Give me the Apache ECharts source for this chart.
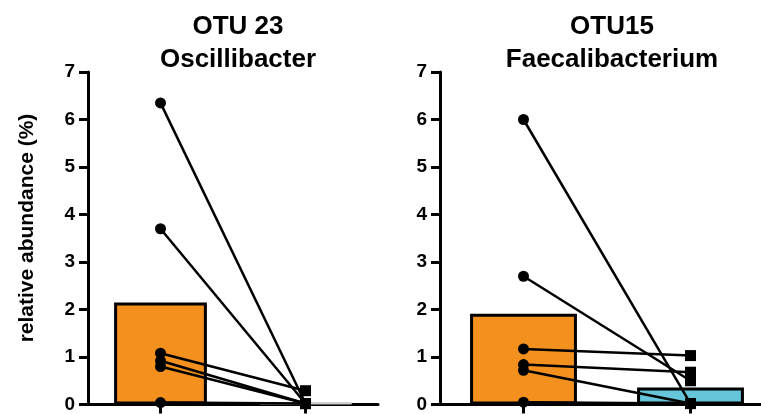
<!DOCTYPE html>
<html>
<head>
<meta charset="utf-8">
<script src="https://cdn.jsdelivr.net/npm/echarts@6/dist/echarts.min.js"></script>
<style>
html,body{margin:0;padding:0;background:#fff;overflow:hidden;width:761px;height:414px;}
#chart{width:800px;height:414px;}
</style>
</head>
<body>
<div id="chart"></div>
<script>
// ---- data ----
var categories = ['before', 'after'];
var yTicks = [0, 1, 2, 3, 4, 5, 6, 7];
var panelTitles = ['OTU 23\nOscillibacter', 'OTU15\nFaecalibacterium'];
var yAxisLabel = 'relative abundance (%)';

var otu23Before = [6.35, 3.70, 1.08, 0.92, 0.80, 0.04];
var otu23After  = [0.02, 0.02, 0.29, 0.02, 0.02, 0.02];
var otu23Means  = [2.15, 0.05];

var otu15Before = [6.00, 2.70, 1.17, 0.84, 0.72, 0.05];
var otu15After  = [0.02, 0.50, 1.03, 0.68, 0.02, 0.02];
var otu15Means  = [1.91, 0.36];

// ---- build ----
var FONT = 'Liberation Sans, Arial, sans-serif';
var barColors = [['#F3901E', '#D4D4D4'], ['#F3901E', '#66C5D8']];
var panels = [
  {before: otu23Before, after: otu23After, means: otu23Means},
  {before: otu15Before, after: otu15After, means: otu15Means}
];

var grids = [
  {left: 88, width: 290, top: 72, bottom: 9},
  {left: 440, width: 334, top: 72, bottom: 9}
];
var titleCenters = ['233', '607'];

function xAxisFor(i) {
  return {
    type: 'category', gridIndex: i, data: categories,
    axisLine: {show: true, lineStyle: {color: '#000', width: 3}},
    axisTick: {show: true, alignWithLabel: true, length: 9, lineStyle: {color: '#000', width: 3}},
    axisLabel: {show: false},
    splitLine: {show: false}
  };
}
function yAxisFor(i) {
  return {
    type: 'value', gridIndex: i, min: yTicks[0], max: yTicks[yTicks.length - 1], interval: 1,
    axisLine: {show: true, lineStyle: {color: '#000', width: 3}},
    axisTick: {show: true, length: 9, lineStyle: {color: '#000', width: 3}},
    axisLabel: {margin: 13, color: '#000', fontSize: 19, fontWeight: 'bold', fontFamily: FONT},
    splitLine: {show: false}
  };
}

var series = [];
panels.forEach(function (p, i) {
  series.push({
    type: 'bar', xAxisIndex: i, yAxisIndex: i, barWidth: '64%', z: 2,
    data: p.means.map(function (v, k) {
      return {
        value: v,
        itemStyle: k === 1 && i === 0
          ? {color: barColors[i][k], borderColor: '#C8C8C8', borderWidth: 1}
          : {color: barColors[i][k], borderColor: '#000', borderWidth: 3}
      };
    }),
    silent: true
  });
  p.before.forEach(function (b, j) {
    series.push({
      type: 'line', xAxisIndex: i, yAxisIndex: i, z: 5,
      symbolSize: 11,
      lineStyle: {color: '#000', width: 2.5},
      itemStyle: {color: '#000'},
      data: [
        {value: b, symbol: 'circle'},
        {value: p.after[j], symbol: 'rect'}
      ],
      silent: true, animation: false
    });
  });
});

var option = {
  animation: false,
  backgroundColor: '#fff',
  title: panelTitles.map(function (t, i) {
    return {
      text: t, left: titleCenters[i], top: 5, textAlign: 'center',
      textStyle: {fontFamily: FONT, fontWeight: 'bold', fontSize: 26, lineHeight: 33, color: '#000'}
    };
  }),
  grid: grids,
  xAxis: [xAxisFor(0), xAxisFor(1)],
  yAxis: [yAxisFor(0), yAxisFor(1)],
  graphic: [{
    type: 'text', x: 27, y: 228, rotation: Math.PI / 2,
    style: {text: yAxisLabel, fill: '#000', font: 'bold 21px ' + FONT, textAlign: 'center', textVerticalAlign: 'middle'}
  }],
  series: series
};

var chart = echarts.init(document.getElementById('chart'), null, {renderer: 'canvas'});
chart.setOption(option);
</script>
</body>
</html>
